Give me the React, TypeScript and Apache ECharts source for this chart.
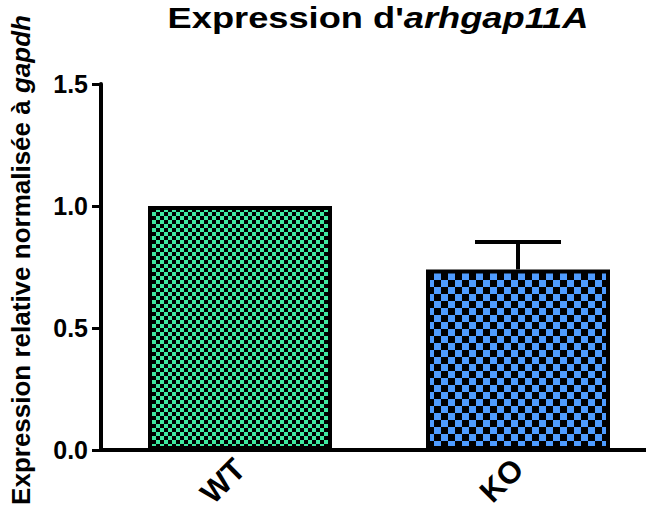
import React, { useEffect, useRef } from "react";
import * as echarts from "echarts";

const categories = ["WT", "KO"];
const means = [1.0, 0.74];
const sems = [0, 0.112];
const yTicks = [0, 0.5, 1.0, 1.5];

function checker(bg: string, cell: number): string {
  const c = document.createElement("canvas");
  c.width = cell * 2;
  c.height = cell * 2;
  const ctx = c.getContext("2d")!;
  ctx.fillStyle = bg;
  ctx.fillRect(0, 0, cell * 2, cell * 2);
  ctx.fillStyle = "#000";
  ctx.fillRect(0, 0, cell, cell);
  ctx.fillRect(cell, cell, cell, cell);
  return c.toDataURL();
}

export default function App() {
  const ref = useRef<HTMLDivElement>(null);
  useEffect(() => {
    document.body.style.margin = "0";
    const chart = echarts.init(ref.current!, null, { renderer: "svg" });
    const green = checker("#3fe8a0", 4);
    const blue = checker("#4f9cff", 7);
    const font = "Arial, 'Liberation Sans', sans-serif";
    chart.setOption({
      animation: false,
      grid: { left: 101, top: 84, width: 556, height: 366, outerBoundsMode: "none", containLabel: false },
      graphic: [
        {
          type: "text",
          x: 378,
          y: 3,
          scaleX: 1.25,
          style: {
            text: "{a|Expression d'}{b|arhgap11A}",
            align: "center",
            verticalAlign: "top",
            rich: {
              a: { fontFamily: font, fontWeight: "bold", fontSize: 29, fill: "#000" },
              b: { fontFamily: font, fontWeight: "bold", fontStyle: "italic", fontSize: 29, fill: "#000" },
            },
          },
        },
      ],
      xAxis: {
        type: "category",
        data: categories,
        axisLine: { lineStyle: { color: "#000", width: 4 } },
        axisTick: { alignWithLabel: true, length: 11, lineStyle: { color: "#000", width: 3 } },
        axisLabel: {
          rotate: 45,
          margin: 14,
          color: "#000",
          fontFamily: font,
          fontWeight: "bold",
          fontSize: 31,
        },
      },
      yAxis: {
        type: "value",
        min: 0,
        max: 1.5,
        interval: 0.5,
        name: "{a|Expression relative normalisée à }{b|gapdh}",
        nameLocation: "middle",
        nameGap: 67,
        nameTextStyle: {
          padding: [0, 0, 0, 14],
          rich: {
            a: { fontFamily: font, fontWeight: "bold", fontSize: 26, color: "#000" },
            b: { fontFamily: font, fontWeight: "bold", fontStyle: "italic", fontSize: 26, color: "#000" },
          },
        },
        axisLine: { show: true, lineStyle: { color: "#000", width: 4 } },
        axisTick: { show: true, length: 9, lineStyle: { color: "#000", width: 3 } },
        splitLine: { show: false },
        axisLabel: {
          margin: 13,
          color: "#000",
          fontFamily: font,
          fontWeight: "bold",
          fontSize: 25,
          formatter: (v: number) => (yTicks.includes(v) ? v.toFixed(1) : ""),
        },
      },
      series: [
        {
          type: "bar",
          barWidth: 184,
          data: means.map((v, i) => ({
            value: v,
            itemStyle: {
              color: { image: i === 0 ? green : blue, repeat: "repeat" },
              borderColor: "#000",
              borderWidth: 4,
            },
          })),
          z: 2,
        },
        {
          type: "custom",
          z: 1,
          data: means.map((m, i) => [i, m, m + sems[i]]),
          renderItem: (params: any, api: any) => {
            const x = api.value(0);
            const lo = api.coord([x, api.value(1)]);
            const hi = api.coord([x, api.value(2)]);
            if (sems[params.dataIndex] <= 0) return { type: "group", children: [] };
            const half = 43;
            return {
              type: "group",
              children: [
                {
                  type: "line",
                  shape: { x1: hi[0], y1: lo[1], x2: hi[0], y2: hi[1] },
                  style: { stroke: "#000", lineWidth: 4 },
                },
                {
                  type: "line",
                  shape: { x1: hi[0] - half, y1: hi[1], x2: hi[0] + half, y2: hi[1] },
                  style: { stroke: "#000", lineWidth: 4 },
                },
              ],
            };
          },
        },
      ],
    });
    return () => chart.dispose();
  }, []);
  return <div ref={ref} style={{ position: "absolute", left: 0, top: 0, width: 646, height: 517 }} />;
}
